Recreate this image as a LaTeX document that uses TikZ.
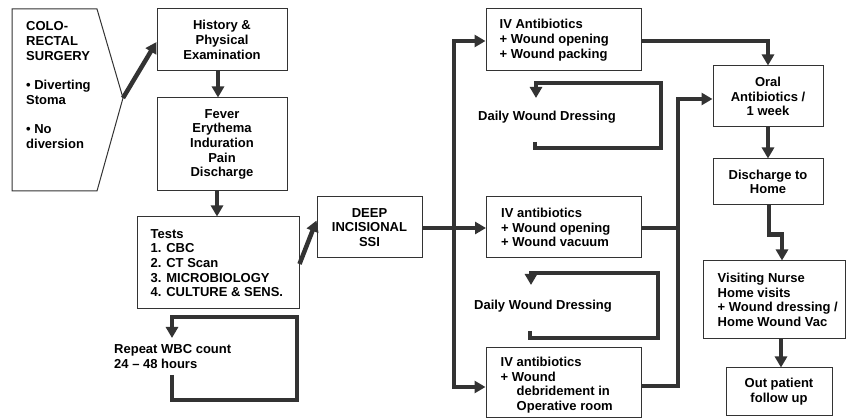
\documentclass[tikz,border=0pt]{standalone}
\usepackage{fontspec}
\setmainfont{Liberation Sans}
\usetikzlibrary{arrows.meta}
\definecolor{ln}{HTML}{333333}
\begin{document}
\begin{tikzpicture}[x=1pt,y=-1pt,
  txt/.style={font=\bfseries\fontsize{13}{14.7}\selectfont},
  box/.style={txt, draw=ln, line width=1pt, fill=white, align=center, inner sep=0pt},
  lbl/.style={txt, align=left, inner sep=0pt},
  flow/.style={draw=ln, line width=4.5pt, line join=miter, -{Triangle[length=11pt,width=12pt]}},
  wire/.style={draw=ln, line width=4.5pt, line join=miter}]
\useasboundingbox (0,0) rectangle (846,419);

% left pentagon
\draw[draw=ln, line width=1pt, fill=white] (12,9) -- (97,9) -- (123,98) coordinate (tip) -- (97,191) -- (12,191) -- cycle;
\node[lbl, anchor=west] (colo) at (26,85) {COLO-\\RECTAL\\SURGERY\\[14.7pt]\textbullet\ Diverting\\Stoma\\[14.7pt]\textbullet\ No\\diversion};

% left column
\node[box, minimum width=130pt, minimum height=62pt] (hist) at (222,40) {History \&\\Physical\\Examination};
\node[box, minimum width=130pt, minimum height=93pt] (fever) at (222,144.5) {Fever\\Erythema\\Induration\\Pain\\Discharge};
\node[box, minimum width=162pt, minimum height=92pt] (tests) at (218,263) {};
\node[lbl, anchor=west] (testst) at ([xshift=14pt]tests.west) {Tests\\1. CBC\\2. CT Scan\\3. MICROBIOLOGY\\4. CULTURE \& SENS.};
\node[lbl, anchor=west] (wbc) at (114,356.5) {Repeat WBC count\\24 \textendash\ 48 hours};

\node[box, minimum width=105pt, minimum height=61pt] (deep) at (369.5,227.5) {DEEP\\INCISIONAL\\SSI};

% middle column
\node[box, minimum width=155pt, minimum height=62pt] (iv1) at (563.5,40) {};
\node[lbl, anchor=west] (iv1t) at ([xshift=14pt]iv1.west) {IV Antibiotics\\+ Wound opening\\+ Wound packing};
\node[box, minimum width=155pt, minimum height=61pt] (iv2) at (564,227.5) {};
\node[lbl, anchor=west] (iv2t) at ([xshift=15pt]iv2.west) {IV antibiotics\\+ Wound opening\\+ Wound vacuum};
\node[box, minimum width=155pt, minimum height=69pt] (iv3) at (563.5,382.5) {};
\node[lbl, anchor=west] (iv3t) at ([xshift=15pt,yshift=-2.5pt]iv3.west) {IV antibiotics\\+ Wound\\\hspace*{16pt}debridement in\\\hspace*{16pt}Operative room};
\node[lbl] (d1) at (547,117) {Daily Wound Dressing};
\node[lbl] (d2) at (543,306) {Daily Wound Dressing};

% right column
\node[box, minimum width=110pt, minimum height=61pt] (oral) at (768,96.5) {Oral\\Antibiotics /\\1 week};
\node[box, minimum width=110pt, minimum height=46pt] (disc) at (768,182) {Discharge to\\Home};
\node[box, minimum width=142pt, minimum height=78pt] (visit) at (774,300) {};
\node[lbl, anchor=west] (visitt) at ([xshift=15pt]visit.west) {Visiting Nurse\\Home visits\\+ Wound dressing /\\Home Wound Vac};
\node[box, minimum width=106pt, minimum height=47pt] (out) at (779,391.5) {Out patient\\follow up};

% connectors left
\draw[flow] (tip) -- ([yshift=-2pt]hist.west);
\draw[flow] ([xshift=-4pt]hist.south) -- ([xshift=-4pt]fever.north);
\draw[flow] ([xshift=-5pt]fever.south) -- ([xshift=-1pt]tests.north);
\draw[flow] ([yshift=-1pt]tests.east) -- ([yshift=7pt]deep.west);

% WBC loop
\coordinate (w0) at (172,375);
\coordinate (w1) at (297,400);
\coordinate (w2) at (297,317);
\coordinate (w3) at (172,338);
\draw[flow] (w0) |- (w1) -- (w2) -| (w3);

% distribution
\coordinate (split) at (454,228);
\draw[flow] (deep.east |- split) -- (iv2.west |- split);
\draw[flow] (split) |- ([yshift=-1pt]iv1.west);
\draw[flow] (split) |- ([yshift=-4.5pt]iv3.west);

% daily loops
\coordinate (a0) at (535,142);
\coordinate (a1) at (661,148);
\coordinate (a2) at (661,83);
\coordinate (a3) at (536,98);
\draw[flow] (a0) |- (a1) -- (a2) -| (a3);
\coordinate (b0) at (530,331);
\coordinate (b1) at (658,338);
\coordinate (b2) at (658,273);
\coordinate (b3) at (531,285);
\draw[flow] (b0) |- (b1) -- (b2) -| (b3);

% merge to oral
\coordinate (col) at (678,99);
\draw[flow] (iv1.east |- 0,41) -| (oral.north);
\draw[wire] (iv2.east |- 0,228) -- (col |- 0,228);
\draw[flow] ([yshift=-3.5pt]iv3.east) -| (col) -- (oral.west |- col);

% right column connectors
\draw[flow] (oral.south) -- (disc.north);
\draw[flow] ([xshift=1pt]disc.south) -- ++(0,29) coordinate (k) -| ([xshift=8pt]visit.north);
\draw[flow] (visit.south -| 781,0) -- (out.north -| 781,0);
\end{tikzpicture}
\end{document}
